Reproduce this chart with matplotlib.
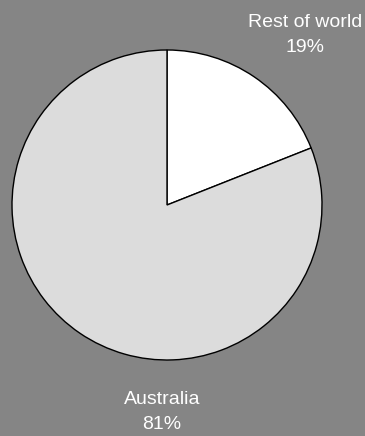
import matplotlib.pyplot as plt

# share of total, by region
regions = ["Rest of world", "Australia"]
shares = [19, 81]

plt.rcParams['font.family'] = ['Liberation Sans', 'DejaVu Sans']

bg = '#858585'
fig = plt.figure(figsize=(3.65, 4.36), dpi=100)
fig.patch.set_facecolor(bg)
ax = fig.add_axes([0, 0, 1, 1])
ax.set_facecolor(bg)

ax.pie(shares, colors=['white', '#dcdcdc'], startangle=90, counterclock=False,
       center=(167, 231), radius=155, frame=True,
       wedgeprops=dict(edgecolor='black', linewidth=1))
ax.set_xlim(0, 365)
ax.set_ylim(0, 436)
ax.set_aspect('equal')
ax.axis('off')

ax.text(305, 422, f"{regions[0]}\n{shares[0]}%", color='white', fontsize=14,
        ha='center', va='top', linespacing=1.6)
ax.text(162, 45, f"{regions[1]}\n{shares[1]}%", color='white', fontsize=14,
        ha='center', va='top', linespacing=1.6)

fig.savefig('out.png', dpi=100, facecolor=fig.get_facecolor())
